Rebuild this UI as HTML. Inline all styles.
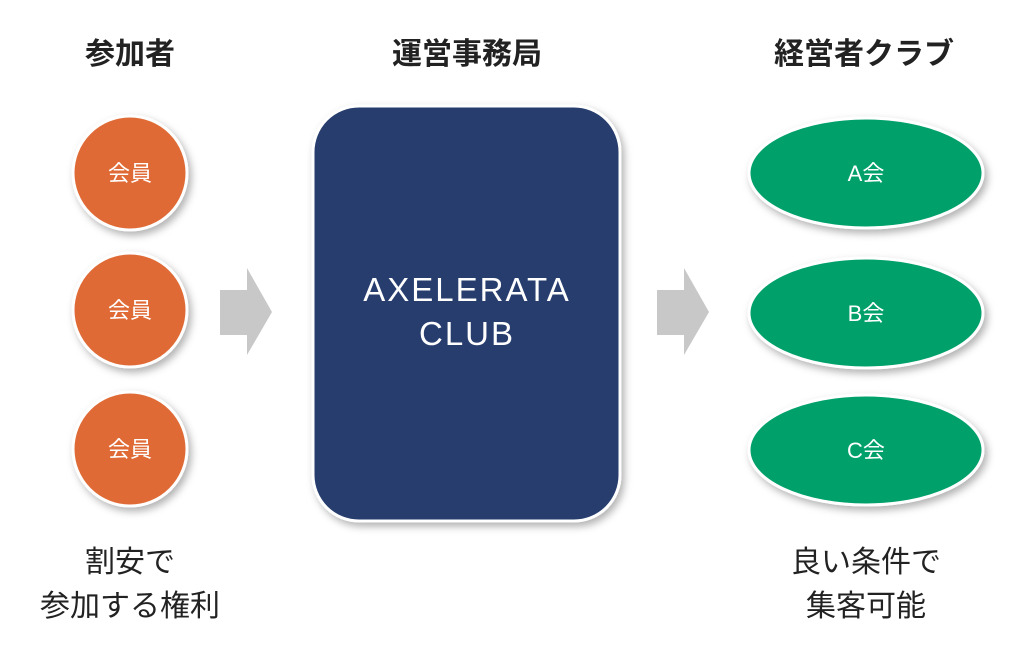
<!DOCTYPE html>
<html><head><meta charset="utf-8"><style>
body{margin:0;background:#fff;width:1024px;height:655px;overflow:hidden}
svg text{font-family:"Liberation Sans","Noto Sans CJK JP",sans-serif}
</style></head><body>
<svg width="1024" height="655" viewBox="0 0 1024 655">
<defs>
<filter id="sh" x="-30%" y="-30%" width="160%" height="160%">
<feDropShadow dx="3" dy="4" stdDeviation="4" flood-color="#000" flood-opacity="0.3"/>
</filter>
</defs>
<g font-size="30" font-weight="bold" fill="#222" text-anchor="middle">
<text x="130" y="64">参加者</text>
<text x="467" y="64">運営事務局</text>
<text x="864" y="64">経営者クラブ</text>
</g>
<g filter="url(#sh)" stroke="#fff" stroke-width="3">
<circle cx="130" cy="173" r="57" fill="#e06a35"/>
<circle cx="130" cy="310" r="57" fill="#e06a35"/>
<circle cx="130" cy="449" r="57" fill="#e06a35"/>
<rect x="313" y="106" width="307" height="415" rx="46" fill="#253e6e"/>
<ellipse cx="866" cy="173" rx="117" ry="55" fill="#00a06b"/>
<ellipse cx="866" cy="313" rx="117" ry="55" fill="#00a06b"/>
<ellipse cx="866" cy="450" rx="117" ry="55" fill="#00a06b"/>
</g>
<g fill="#c8c8c8">
<polygon points="220,290 247,290 247,268 272,312 247,355 247,335 220,335"/>
<polygon points="657,290 684,290 684,268 709,312 684,355 684,335 657,335"/>
</g>
<g font-size="22" fill="#fff" text-anchor="middle">
<text x="130" y="181">会員</text>
<text x="130" y="318">会員</text>
<text x="130" y="457">会員</text>
<text x="866" y="181">A会</text>
<text x="866" y="321">B会</text>
<text x="866" y="458">C会</text>
</g>
<g font-size="33" fill="#fff" text-anchor="middle" letter-spacing="2">
<text x="467" y="301">AXELERATA</text>
<text x="467" y="345">CLUB</text>
</g>
<g font-size="30" fill="#222" text-anchor="middle">
<text x="130" y="572">割安で</text>
<text x="130" y="616">参加する権利</text>
<text x="866" y="572">良い条件で</text>
<text x="866" y="616">集客可能</text>
</g>
</svg>
</body></html>
